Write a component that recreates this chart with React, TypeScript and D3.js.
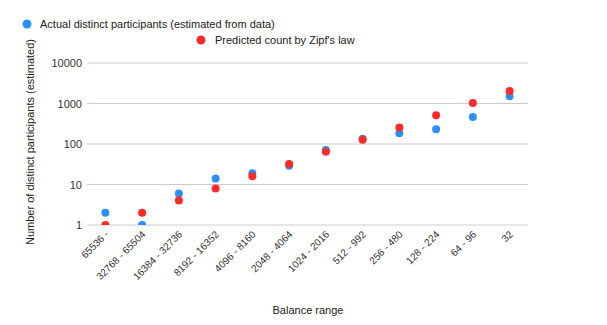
import React from "react";
import * as d3 from "d3";

const categories = [
  "65536 -", "32768 - 65504", "16384 - 32736", "8192 - 16352", "4096 - 8160",
  "2048 - 4064", "1024 - 2016", "512 - 992", "256 - 480", "128 - 224", "64 - 96", "32",
];
const actual = [2, 1, 6, 14, 19, 29, 71, 135, 185, 230, 465, 1510];
const predicted = [1, 2, 4, 8, 16, 32, 64, 128, 256, 512, 1024, 2048];
const yTicks = [1, 10, 100, 1000, 10000];

const W = 607, H = 325;
const left = 87, right = 528, top = 63, bottom = 225;
const FONT = "'Liberation Sans', Arial, sans-serif";
const BLUE = "#2b8ff5";
const RED = "#ff2b2b";

export default function App() {
  const x = d3.scaleBand<string>().domain(categories).range([left, right]);
  const y = d3.scaleLog().domain([1, 10000]).range([bottom, top]);
  const cx = (c: string) => (x(c) ?? 0) + x.bandwidth() / 2;
  return (
    <svg width={W} height={H} style={{ position: "absolute", left: 0, top: 0, fontFamily: FONT }}>
      <defs>
        <clipPath id="plot">
          <rect x={left} y={top - 10} width={right - left} height={bottom - top + 10} />
        </clipPath>
      </defs>
      <rect width={W} height={H} fill="#fff" />
      {/* legend */}
      <circle cx={27} cy={24} r={4.5} fill={BLUE} />
      <text x={40} y={28} fontSize={11} fill="#222">Actual distinct participants (estimated from data)</text>
      <circle cx={201} cy={40} r={4.5} fill={RED} />
      <text x={215} y={44} fontSize={11} fill="#222">Predicted count by Zipf's law</text>
      {/* grid */}
      {yTicks.map((t) => (
        <g key={t}>
          <line x1={left} x2={right} y1={y(t)} y2={y(t)} stroke="#ccc" strokeWidth={1} />
          <text x={82} y={y(t) + 4} fontSize={11} textAnchor="end" fill="#333">{t}</text>
        </g>
      ))}
      {/* points */}
      <g clipPath="url(#plot)">
        {categories.map((c, i) => (
          <circle key={"a" + i} cx={cx(c)} cy={y(actual[i])} r={4} fill={BLUE} />
        ))}
        {categories.map((c, i) => (
          <circle key={"p" + i} cx={cx(c)} cy={y(predicted[i])} r={4} fill={RED} />
        ))}
      </g>
      {/* x labels */}
      {categories.map((c) => (
        <text
          key={c}
          transform={`translate(${cx(c) + 4},${bottom + 10}) rotate(-45)`}
          fontSize={10}
          textAnchor="end"
          fill="#333"
        >
          {c}
        </text>
      ))}
      <text x={308} y={314} fontSize={11} textAnchor="middle" fill="#222">Balance range</text>
      <text transform={`translate(34,142) rotate(-90)`} fontSize={11} textAnchor="middle" fill="#222">
        Number of distinct participants (estimated)
      </text>
    </svg>
  );
}
